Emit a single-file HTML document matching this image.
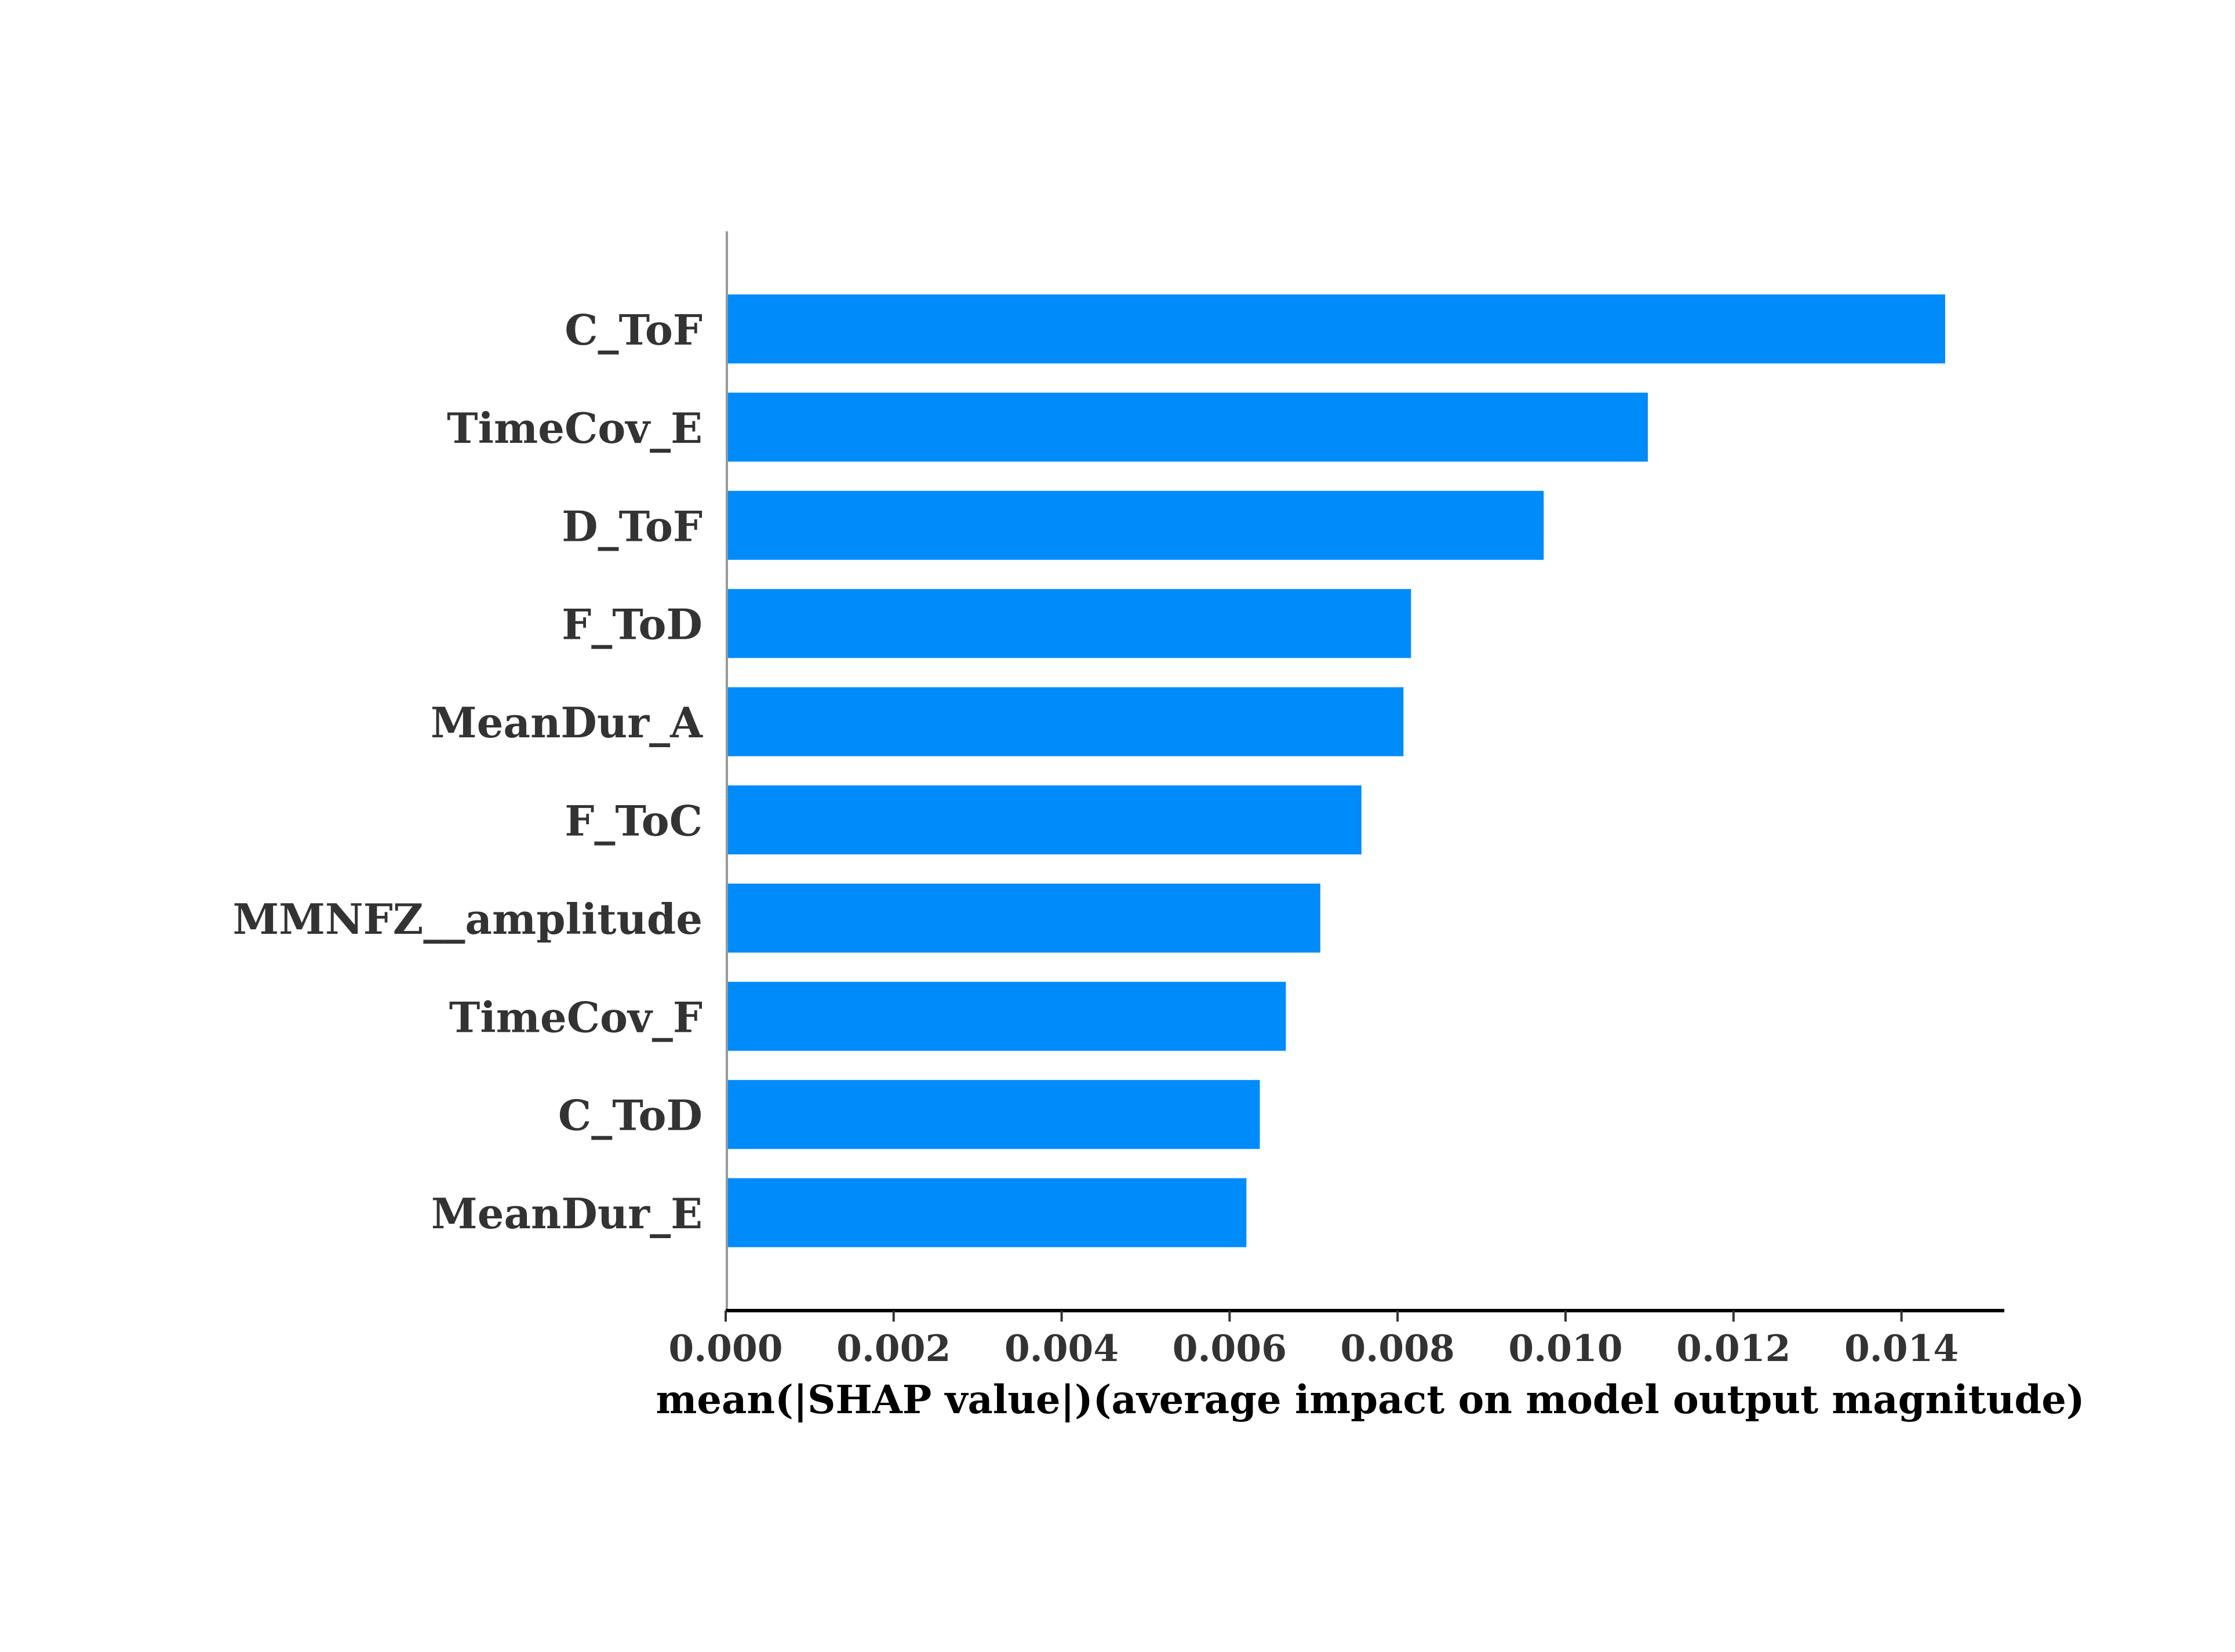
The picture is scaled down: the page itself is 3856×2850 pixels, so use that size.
<!DOCTYPE html>
<html><head><meta charset="utf-8"><style>
html,body{margin:0;padding:0;background:#fff;}
svg{display:block;}
text{font-family:"DejaVu Serif","Liberation Serif",serif;font-weight:bold;}
</style></head><body>
<svg id="chart" width="3856" height="2850" viewBox="0 0 3856 2850" xmlns="http://www.w3.org/2000/svg">
<rect width="3856" height="2850" fill="#fff"/>
<g id="bars"></g>
<g id="ylabels"></g>
<line x1="1254" y1="399" x2="1254" y2="2261" stroke="#999" stroke-width="4"/>
<line x1="1252" y1="2261" x2="3458" y2="2261" stroke="#000" stroke-width="6"/>
<g id="xticks"></g>
<text x="2364" y="2438" text-anchor="middle" font-size="67" fill="#000">mean(|SHAP value|)(average impact on model output magnitude)</text>
</svg>
<script>
const features = ["C_ToF","TimeCov_E","D_ToF","F_ToD","MeanDur_A","F_ToC","MMNFZ__amplitude","TimeCov_F","C_ToD","MeanDur_E"];
const values = [0.01452,0.01098,0.00974,0.00816,0.00807,0.00757,0.00708,0.00667,0.00636,0.00620];
const tickValues = [0,0.002,0.004,0.006,0.008,0.010,0.012,0.014];
const tickLabels = ["0.000","0.002","0.004","0.006","0.008","0.010","0.012","0.014"];

const NS = "http://www.w3.org/2000/svg";
const x0 = 1252, pxPerUnit = 144.9/0.001;
function xScale(v){ return x0 + v*pxPerUnit; }
const yTop = 567.5, pitch = 169.4, barH = 119;
function yScale(i){ return yTop + i*pitch; }

const gb = document.getElementById('bars');
const gl = document.getElementById('ylabels');
features.forEach((f,i)=>{
  const r = document.createElementNS(NS,'rect');
  r.setAttribute('x', x0);
  r.setAttribute('y', yScale(i)-barH/2);
  r.setAttribute('width', xScale(values[i])-x0);
  r.setAttribute('height', barH);
  r.setAttribute('fill', '#008bfb');
  
  
  gb.appendChild(r);
  const t = document.createElementNS(NS,'text');
  t.setAttribute('x', 1212);
  t.setAttribute('y', yScale(i)+27);
  t.setAttribute('text-anchor','end');
  t.setAttribute('font-size','72');
  t.setAttribute('fill','#333');
  t.textContent = f;
  
  
  gl.appendChild(t);
});
const gt = document.getElementById('xticks');
tickValues.forEach((v,i)=>{
  const x = xScale(v);
  const l = document.createElementNS(NS,'line');
  l.setAttribute('x1',x); l.setAttribute('x2',x);
  l.setAttribute('y1',2261); l.setAttribute('y2',2280);
  l.setAttribute('stroke','#333'); l.setAttribute('stroke-width','4');
  
  
  gt.appendChild(l);
  const t = document.createElementNS(NS,'text');
  t.setAttribute('x',x); t.setAttribute('y',2348);
  t.setAttribute('text-anchor','middle');
  t.setAttribute('font-size','63');
  t.setAttribute('fill','#333');
  t.textContent = tickLabels[i];
  
  
  gt.appendChild(t);
});
</script>
</body></html>
